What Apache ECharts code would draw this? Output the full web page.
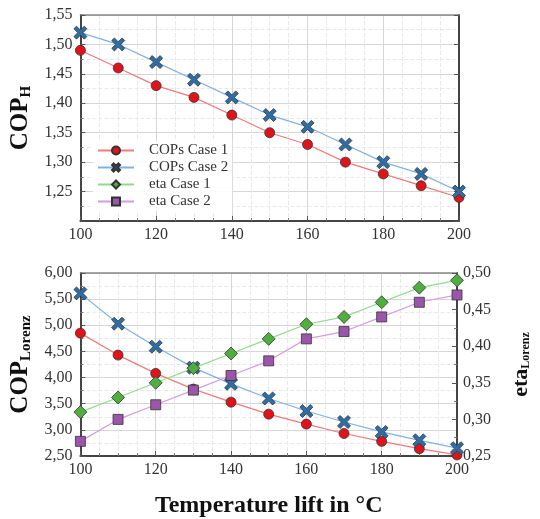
<!DOCTYPE html>
<html><head><meta charset="utf-8">
<script src="https://cdn.jsdelivr.net/npm/echarts@6/dist/echarts.min.js"></script>
<style>html,body{margin:0;padding:0;background:#fff}#c{width:540px;height:519px}</style>
</head><body><div id="c"></div>
<script>
var temps = [100,110,120,130,140,150,160,170,180,190,200];
var copHCase1 = [1.49,1.46,1.43,1.41,1.38,1.35,1.33,1.30,1.28,1.26,1.24];
var copHCase2 = [1.52,1.50,1.47,1.44,1.41,1.38,1.36,1.33,1.30,1.28,1.25];
var copLCase1 = [4.85,4.43,4.08,3.78,3.53,3.30,3.11,2.93,2.78,2.64,2.52];
var copLCase2 = [5.61,5.03,4.59,4.19,3.88,3.60,3.36,3.15,2.96,2.80,2.65];
var etaCase1 = [0.31,0.33,0.35,0.37,0.39,0.41,0.43,0.44,0.46,0.48,0.49];
var etaCase2 = [0.27,0.30,0.32,0.34,0.36,0.38,0.41,0.42,0.44,0.46,0.47];

function pairs(v){ return temps.map(function(t,i){ return [t, v[i]]; }); }
var FONT = '"Liberation Serif","DejaVu Serif",serif';
var fmt2 = function(v){ return v.toFixed(2).replace('.', ','); };
var crossPath = 'path://M0,2 L2,0 L5,3 L8,0 L10,2 L7,5 L10,8 L8,10 L5,7 L2,10 L0,8 L3,5 Z';

var styles = {
  c1: {line:'#f07a7a', fill:'#e0131b', symbol:'circle', size:10},
  c2: {line:'#7fb2e0', fill:'#2e6ea6', symbol:crossPath, size:13},
  e1: {line:'#90dc8c', fill:'#4fae3e', symbol:'diamond', size:13},
  e2: {line:'#d49ce0', fill:'#9b55aa', symbol:'rect', size:10}
};
function ser(name, st, data, xi, yi){
  return {name:name, type:'line', xAxisIndex:xi, yAxisIndex:yi, data:pairs(data),
    symbol:st.symbol, symbolSize:st.size, showSymbol:true,
    lineStyle:{color:st.line, width:1.2},
    itemStyle:{color:st.fill, borderColor:'#333', borderWidth:0.8},
    emphasis:{disabled:true}, animation:false, z:5};
}
var gridLine = {show:true, lineStyle:{color:'#d6d6d6', width:1}};
var minorLine = {show:true, lineStyle:{color:'#e8e8e8', width:1, type:'dashed'}};
var axLineDark = {show:true, lineStyle:{color:'#444', width:2}};
var tickIn = {show:true, inside:true, length:5, lineStyle:{color:'#555'}};
var minorTickIn = {show:true, length:3, splitNumber:2, lineStyle:{color:'#777'}};
var labelStyle = {fontFamily:FONT, fontSize:16, color:'#333'};
function nameRich(ms, ss, pad){
  return {rich:{a:{fontFamily:FONT, fontSize:ms, fontWeight:'bold', color:'#111'},
                b:{fontFamily:FONT, fontSize:ss, fontWeight:'bold', color:'#111', padding:[pad,0,0,0]}}};
}

function xAx(gi, top){
  return {type:'value', gridIndex:gi, min:100, max:200, interval:20,
    position: top ? 'top' : 'bottom',
    axisLine: top ? {show:true, lineStyle:{color:'#888', width:1.5}} : axLineDark,
    axisTick: top ? {show:false} : tickIn,
    minorTick: top ? {show:false} : {show:true, splitNumber:4, length:3, lineStyle:{color:'#777'}},
    axisLabel: top ? {show:false} : Object.assign({margin:6}, labelStyle),
    splitLine: top ? {show:false} : gridLine,
    minorSplitLine: top ? {show:false} : minorLine};
}

var option = {
  backgroundColor:'#fff',
  animation:false,
  grid:[
    {left:76, right:81, top:15, height:206},
    {left:76, right:81, top:273, height:188}
  ],
  legend:{
    data:['COPs Case 1','COPs Case 2','eta Case 1','eta Case 2'],
    orient:'vertical', left:93, top:141, itemGap:2, itemWidth:36, itemHeight:10,
    textStyle:{fontFamily:FONT, fontSize:15, color:'#333', padding:[0,0,0,10]},
    backgroundColor:'rgba(255,255,255,0.9)', padding:[2,4]
  },
  xAxis:[
    xAx(0,false), xAx(0,true),
    Object.assign(xAx(1,false), {
      name:'Temperature lift in °C', nameLocation:'middle', nameGap:38,
      nameTextStyle:{fontFamily:FONT, fontSize:24, fontWeight:'bold', color:'#111'}}),
    xAx(1,true)
  ],
  yAxis:[
    {type:'value', gridIndex:0, min:1.20, max:1.55, interval:0.05,
     axisLine:axLineDark, axisTick:tickIn, minorTick:minorTickIn,
     axisLabel:Object.assign({margin:8, formatter:function(v){ return v<1.21 ? '' : fmt2(v); }}, labelStyle),
     splitLine:gridLine, minorSplitLine:minorLine,
     name:'{a|COP}{b|H}', nameLocation:'middle', nameGap:44, nameRotate:90,
     nameTextStyle:nameRich(25,15,11)},
    {type:'value', gridIndex:0, min:1.20, max:1.55, interval:0.05, position:'right',
     axisLine:axLineDark, axisTick:tickIn, axisLabel:{show:false}, splitLine:{show:false}},
    {type:'value', gridIndex:1, min:2.5, max:6.0, interval:0.5,
     axisLine:axLineDark, axisTick:tickIn, minorTick:minorTickIn,
     axisLabel:Object.assign({margin:8, formatter:fmt2}, labelStyle),
     splitLine:gridLine, minorSplitLine:minorLine,
     name:'{a|COP}{b|Lorenz}', nameLocation:'middle', nameGap:44, nameRotate:90,
     nameTextStyle:nameRich(25,15,11)},
    {type:'value', gridIndex:1, min:0.25, max:0.50, interval:0.05, position:'right',
     axisLine:axLineDark, axisTick:tickIn, minorTick:minorTickIn,
     axisLabel:Object.assign({margin:6, formatter:fmt2}, labelStyle),
     splitLine:{show:false},
     name:'{a|eta}{b|Lorenz}', nameLocation:'middle', nameGap:53, nameRotate:90,
     nameTextStyle:nameRich(22,12,9)}
  ],
  series:[
    ser('COPs Case 1', styles.c1, copHCase1, 0, 0),
    ser('COPs Case 2', styles.c2, copHCase2, 0, 0),
    ser('COPs Case 1', styles.c1, copLCase1, 2, 2),
    ser('COPs Case 2', styles.c2, copLCase2, 2, 2),
    ser('eta Case 1', styles.e1, etaCase1, 2, 3),
    ser('eta Case 2', styles.e2, etaCase2, 2, 3)
  ]
};
var chart = echarts.init(document.getElementById('c'), null, {renderer:'canvas'});
chart.setOption(option);
</script></body></html>
